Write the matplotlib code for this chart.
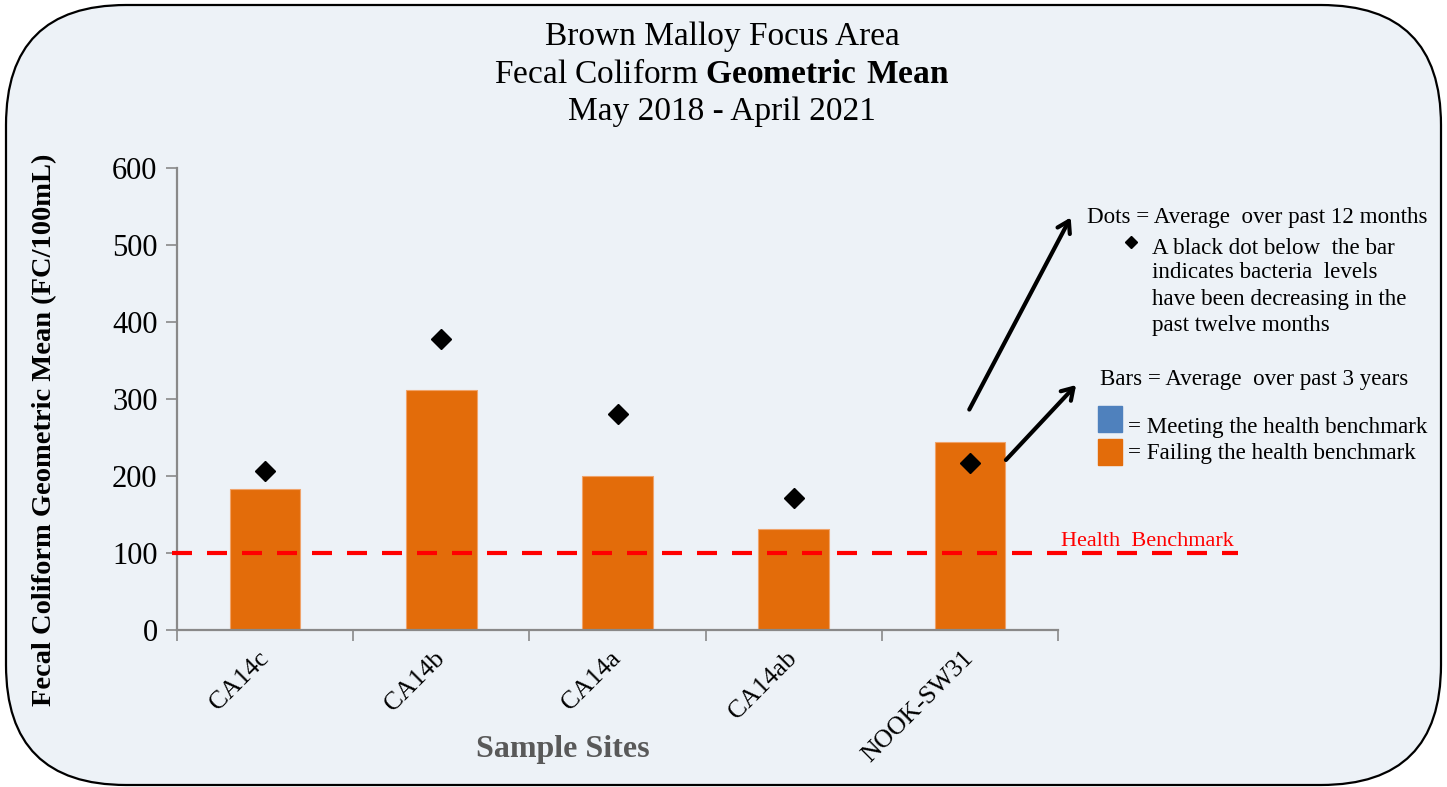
import matplotlib.pyplot as plt
import numpy as np
from matplotlib.patches import FancyBboxPatch, FancyArrowPatch, Rectangle
from matplotlib.lines import Line2D

sites = ['CA14c', 'CA14b', 'CA14a', 'CA14ab', 'NOOK-SW31']
geo_mean_3yr = [183, 311, 200, 131, 244]
geo_mean_12mo = [206, 378, 280, 171, 217]
benchmark = 100
yticks = [0, 100, 200, 300, 400, 500, 600]

W, H = 1447, 787
BG = '#EDF2F7'
ORANGE = '#E36C0A'
BLUE = '#4F81BD'

plt.rcParams['font.family'] = ['Liberation Serif', 'DejaVu Serif']
plt.rcParams['mathtext.fontset'] = 'custom'
plt.rcParams['mathtext.rm'] = 'Liberation Serif'
plt.rcParams['mathtext.bf'] = 'Liberation Serif:bold'


def fp(x, y):
    # pixel position (top-left origin) -> figure fraction
    return x / W, 1 - y / H


fig = plt.figure(figsize=(W / 100, H / 100), dpi=100)
fig.patch.set_facecolor('white')

# rounded frame
frame = FancyBboxPatch((0.06, 0.02), 14.35, 7.80,
                       boxstyle='round,pad=0,rounding_size=1.2',
                       transform=fig.dpi_scale_trans, facecolor=BG,
                       edgecolor='black', linewidth=1.6, zorder=0)
fig.add_artist(frame)

ax = fig.add_axes([177 / W, 1 - 630 / H, (1058 - 177) / W, (630 - 167.7) / H])
ax.set_facecolor('none')

x = np.arange(len(sites))
ax.bar(x, geo_mean_3yr, width=0.4, color=ORANGE, edgecolor='#F0A36A',
       linewidth=0.8, zorder=2)
ax.plot(x, geo_mean_12mo, 'D', color='black', markersize=10.5,
        linestyle='none', zorder=4)
ax.plot([-0.53, 5.52], [benchmark, benchmark], color='red', linewidth=3,
        dashes=(4.8, 3.6), clip_on=False, zorder=3)
ax.text(5.50, benchmark + 2, 'Health  Benchmark', color='red', fontsize=16,
        ha='right', va='bottom')

ax.set_xlim(-0.5, len(sites) - 0.5)
ax.set_ylim(0, 600)
ax.set_yticks(yticks)
ax.set_yticklabels([str(v) for v in yticks], fontsize=22)
ax.set_xticks(np.arange(len(sites) + 1) - 0.5)
ax.set_xticklabels([])
ax.set_xticks(x, minor=True)
ax.set_xticklabels(sites, minor=True, rotation=45, ha='right', va='center',
                   rotation_mode='anchor', fontsize=18.5)
ax.tick_params(axis='x', which='minor', length=0, pad=18)
ax.tick_params(axis='both', which='major', length=8, color='#898989',
               width=1.2, direction='out')
ax.tick_params(axis='y', pad=6)
for s in ['top', 'right']:
    ax.spines[s].set_visible(False)
for s in ['left', 'bottom']:
    ax.spines[s].set_color('#898989')
    ax.spines[s].set_linewidth(1.6)

# titles
tfs = 24
fig.text(*fp(722, 37), 'Brown Malloy Focus Area', ha='center', va='center',
         fontsize=tfs)
fig.text(*fp(722, 75), 'Fecal Coliform $\\mathbf{Geometric\\ Mean}$',
         ha='center', va='center', fontsize=tfs)
fig.text(*fp(722, 112), 'May 2018 - April 2021', ha='center', va='center',
         fontsize=tfs)

fig.text(*fp(45, 430), 'Fecal Coliform Geometric Mean (FC/100mL)',
         rotation=90, ha='center', va='center', fontsize=20.5,
         fontweight='bold')
fig.text(*fp(563, 750), 'Sample Sites', ha='center', va='center',
         fontsize=23, fontweight='bold', color='#595959')

# arrows
for (x0, y0), (x1, y1) in [((968, 412), (1072, 215)),
                           ((1004, 462), (1078, 383))]:
    arr = FancyArrowPatch(fp(x0, y0), fp(x1, y1), transform=fig.transFigure,
                          arrowstyle='->,head_length=8,head_width=5',
                          color='black', linewidth=3)
    fig.add_artist(arr)

# legend notes
fs = 16.6
fig.text(*fp(1087, 217), 'Dots = Average  over past 12 months', va='center',
         fontsize=fs)
fig.add_artist(Line2D([fp(1131, 242)[0]], [fp(1131, 242)[1]], marker='D',
                      markersize=6.5, color='black', linestyle='none',
                      transform=fig.transFigure))
notes = ['A black dot below  the bar', 'indicates bacteria  levels',
         'have been decreasing in the', 'past twelve months']
for txt, yy in zip(notes, [248, 273, 299, 326]):
    fig.text(*fp(1152, yy), txt, va='center', fontsize=fs)
fig.text(*fp(1100, 380), 'Bars = Average  over past 3 years', va='center',
         fontsize=fs)
fig.add_artist(Rectangle(fp(1098, 432), 24 / W, 26 / H, color=BLUE,
                         transform=fig.transFigure))
fig.add_artist(Rectangle(fp(1098, 465), 24 / W, 26 / H, color=ORANGE,
                         transform=fig.transFigure))
fig.text(*fp(1128, 428), '= Meeting the health benchmark', va='center',
         fontsize=fs)
fig.text(*fp(1128, 453), '= Failing the health benchmark', va='center',
         fontsize=fs)

fig.savefig('out.png', dpi=100)
